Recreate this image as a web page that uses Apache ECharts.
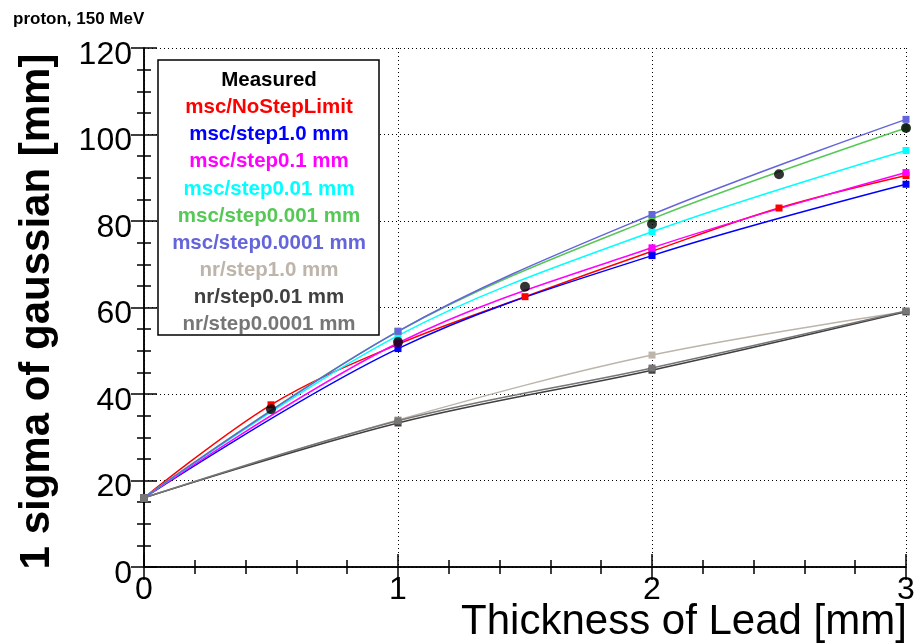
<!DOCTYPE html>
<html>
<head>
<meta charset="utf-8">
<script src="https://cdn.jsdelivr.net/npm/echarts@6/dist/echarts.min.js"></script>
<style>
html, body { margin: 0; padding: 0; background: #fff; }
#main { width: 922px; height: 644px; }
</style>
</head>
<body>
<div id="main"></div>
<script>
var dom = document.getElementById("main");
var myChart = echarts.init(dom);

// data: [thickness mm, sigma mm]
var measured      = [[0.5, 36.5], [1, 52], [1.5, 64.8], [2, 79.3], [2.5, 90.8], [3, 101.5]];
var mscNoStep     = [[0, 16], [0.5, 37.5], [1, 51.5], [1.5, 62.5], [2, 73], [2.5, 83], [3, 90.5]];
var mscStep1      = [[0, 16], [1, 50.5], [2, 72], [3, 88.5]];
var mscStep01     = [[0, 16], [1, 51.8], [2, 73.8], [3, 91.2]];
var mscStep001    = [[0, 16], [1, 53.5], [2, 77.5], [3, 96.3]];
var mscStep0001   = [[0, 16], [1, 54.5], [2, 80.5], [3, 101.5]];
var mscStep00001  = [[0, 16], [1, 54.5], [2, 81.5], [3, 103.5]];
var nrStep1       = [[0, 16], [1, 34], [2, 49], [3, 59]];
var nrStep001     = [[0, 16], [1, 33.3], [2, 45.5], [3, 59]];
var nrStep00001   = [[0, 16], [1, 33.8], [2, 46], [3, 59.2]];

var names = ['Measured', 'msc/NoStepLimit', 'msc/step1.0 mm', 'msc/step0.1 mm', 'msc/step0.01 mm',
             'msc/step0.001 mm', 'msc/step0.0001 mm', 'nr/step1.0 mm', 'nr/step0.01 mm', 'nr/step0.0001 mm'];
var colors = ['#000000', '#ff0000', '#0000ff', '#ff00ff', '#00ffff',
              '#55c855', '#6464dc', '#bdb4aa', '#404040', '#767676'];
var sets = [measured, mscNoStep, mscStep1, mscStep01, mscStep001, mscStep0001, mscStep00001,
            nrStep1, nrStep001, nrStep00001];

var font = 'Liberation Sans, Arial, sans-serif';

var series = sets.map(function (d, i) {
    if (i === 0) {
        return {
            name: names[i], type: 'scatter', data: d, z: 10,
            symbol: 'circle', symbolSize: 10,
            itemStyle: { color: colors[i] }
        };
    }
    return {
        name: names[i], type: 'line', data: d, smooth: 0.35,
        symbol: 'rect', symbolSize: 7, showSymbol: true,
        lineStyle: { color: colors[i], width: 1.5 },
        itemStyle: { color: colors[i] }
    };
});

var tickLabel = { fontFamily: font, fontSize: 32, color: '#000' };
var dotted = { show: true, lineStyle: { color: '#000', type: [1, 3], width: 1 } };
var line = { show: true, lineStyle: { color: '#000', width: 1.5 } };
var tick = { show: true, inside: true, length: 13, lineStyle: { color: '#000', width: 1.5 } };

option = {
    animation: false,
    backgroundColor: '#fff',
    title: {
        text: 'proton, 150 MeV',
        left: 8, top: 6,
        textStyle: { fontFamily: font, fontWeight: 'bold', fontSize: 17, color: '#000' }
    },
    legend: {
        orient: 'vertical',
        left: 158, top: 60,
        backgroundColor: '#fff',
        borderColor: '#000', borderWidth: 1.5,
        padding: [10, 8, 0, 4],
        itemGap: 6.1,
        itemWidth: 0, itemHeight: 0,
        icon: 'none',
        data: names.map(function (n, i) {
            return { name: n, icon: 'none', textStyle: { color: colors[i] } };
        }),
        formatter: function (n) { return '{t|' + n + '}'; },
        textStyle: {
            fontFamily: font,
            rich: { t: { width: 204, align: 'center', fontWeight: 'bold', fontSize: 20.5, lineHeight: 20, fontFamily: font } }
        }
    },
    grid: { left: 144, right: 16, top: 48, bottom: 77, containLabel: false, outerBoundsMode: 'none' },
    xAxis: [{
        type: 'value', min: 0, max: 3, interval: 1,
        name: 'Thickness of Lead [mm]',
        nameLocation: 'middle', nameGap: 34, nameMoveOverlap: false,
        nameTextStyle: { fontFamily: font, fontSize: 42, color: '#000', padding: [0, 0, 0, 318] },
        axisLine: line,
        axisTick: tick,
        minorTick: { show: true, splitNumber: 5, length: 7, lineStyle: { color: '#000', width: 1.5 } },
        axisLabel: Object.assign({ margin: 7 }, tickLabel),
        splitLine: dotted
    }, {
        type: 'value', min: 0, max: 3, interval: 1, position: 'top',
        axisLine: line,
        axisTick: tick,
        minorTick: { show: true, splitNumber: 5, length: 7, lineStyle: { color: '#000', width: 1.5 } },
        axisLabel: { show: false },
        splitLine: { show: false }
    }],
    yAxis: [{
        type: 'value', min: 0, max: 120, interval: 20,
        name: '1 sigma of gaussian [mm]',
        nameLocation: 'middle', nameGap: 86, nameRotate: 90, nameMoveOverlap: false,
        nameTextStyle: { fontFamily: font, fontSize: 42, fontWeight: 'bold', color: '#000', padding: [0, 8, 0, 0] },
        axisLine: line,
        axisTick: tick,
        minorTick: { show: true, splitNumber: 4, length: 7, lineStyle: { color: '#000', width: 1.5 } },
        axisLabel: Object.assign({ margin: 12, verticalAlign: 'top', lineHeight: 14 }, tickLabel),
        splitLine: dotted
    }, {
        type: 'value', min: 0, max: 120, interval: 20, position: 'right',
        axisLine: line,
        axisTick: tick,
        minorTick: { show: true, splitNumber: 4, length: 7, lineStyle: { color: '#000', width: 1.5 } },
        axisLabel: { show: false },
        splitLine: { show: false }
    }],
    series: series
};

if (option && typeof option === "object") {
    myChart.setOption(option, true);
}

window.addEventListener("resize", function () {
    myChart.resize();
});
</script>
</body>
</html>
